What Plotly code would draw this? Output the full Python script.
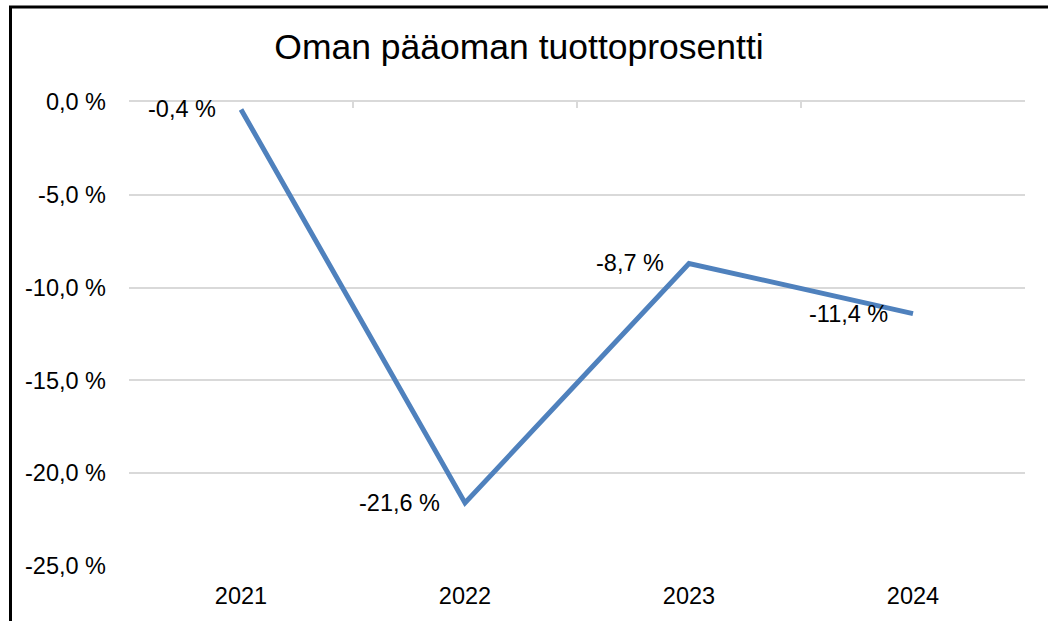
import plotly.graph_objects as go

years = ["2021", "2022", "2023", "2024"]
values = [-0.4, -21.6, -8.7, -11.4]
labels = ["-0,4 %", "-21,6 %", "-8,7 %", "-11,4 %"]
y_ticks = [0, -5, -10, -15, -20, -25]
y_ticktext = ["0,0 %", "-5,0 %", "-10,0 %", "-15,0 %", "-20,0 %", "-25,0 %"]
title_text = "Oman pääoman tuottoprosentti"

FONT = "Liberation Sans, Arial, sans-serif"
LINE_COLOR = "#4F81BD"
GRID = "#D9D9D9"

xpos = list(range(len(years)))

fig = go.Figure()
fig.add_trace(go.Scatter(
    x=xpos, y=values, mode="lines",
    line=dict(color=LINE_COLOR, width=5),
    hoverinfo="skip", showlegend=False,
))
# invisible trace to anchor the top (zero) axis with tick marks
fig.add_trace(go.Scatter(
    x=xpos, y=values, xaxis="x2", mode="none",
    hoverinfo="skip", showlegend=False,
))

for xi, v, t in zip(xpos, values, labels):
    fig.add_annotation(
        x=xi, y=v, text=t, showarrow=False,
        xanchor="right", yanchor="middle", xshift=-23,
        font=dict(family=FONT, size=23.5, color="#000000"),
    )

boundaries = [i - 0.5 for i in range(len(years) + 1)]

fig.update_layout(
    width=1048, height=621,
    margin=dict(l=129, r=23, t=102, b=55),
    paper_bgcolor="white", plot_bgcolor="white",
    title=dict(text=title_text, x=519 / 1048, xanchor="center",
               y=1 - 47 / 621, yanchor="middle",
               font=dict(family=FONT, size=35.5, color="#000000")),
    xaxis=dict(
        range=[-0.5, len(years) - 0.5],
        tickvals=xpos, ticktext=years,
        showgrid=False, zeroline=False, showline=False,
        ticks="", ticklabelstandoff=13,
        tickfont=dict(family=FONT, size=23.5, color="#000000"),
    ),
    xaxis2=dict(
        range=[-0.5, len(years) - 0.5],
        overlaying="x", side="top", anchor="y",
        tickvals=boundaries, showticklabels=False,
        ticks="inside", ticklen=6, tickwidth=1.5, tickcolor=GRID,
        showline=True, linecolor=GRID, linewidth=1.5,
        showgrid=False, zeroline=False,
    ),
    yaxis=dict(
        range=[-25, 0],
        tickvals=y_ticks, ticktext=y_ticktext,
        showgrid=True, gridcolor=GRID, gridwidth=1.5,
        zeroline=False, showline=False, ticks="",
        ticklabelstandoff=22,
        tickfont=dict(family=FONT, size=23.5, color="#000000"),
    ),
    shapes=[
        dict(type="rect", xref="paper", yref="paper",
             x0=(10.5 - 129) / 896, x1=(1200 - 129) / 896,
             y0=(566 - 800) / 464, y1=(566 - 7) / 464,
             line=dict(color="#000000", width=3), fillcolor="rgba(0,0,0,0)",
             layer="above"),
    ],
)

fig.write_html(
    "out.html",
    config={"displayModeBar": False},
    post_script="document.body.style.margin='0';document.body.style.padding='0';",
)
